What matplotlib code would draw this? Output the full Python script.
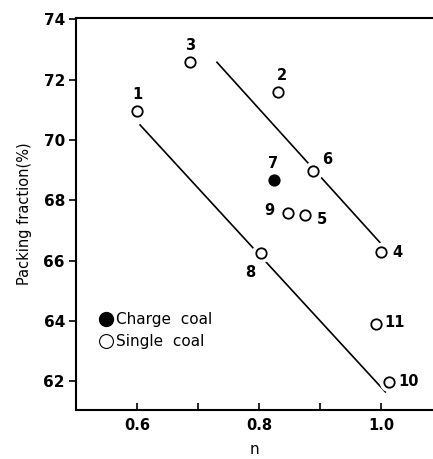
import matplotlib
matplotlib.use("Agg")
import matplotlib.pyplot as plt

# point data
labels = ["1", "2", "3", "4", "5", "6", "7", "8", "9", "10", "11"]
n_vals = [0.600, 0.831, 0.687, 1.000, 0.875, 0.889, 0.825, 0.803, 0.847, 1.013, 0.992]
pf_vals = [70.96, 71.58, 72.58, 66.28, 67.50, 68.97, 68.67, 66.25, 67.57, 61.97, 63.90]
charge = [False, False, False, False, False, False, True, False, False, False, False]

# label offsets (points)
lab_off = {"1": (0, 12), "2": (3, 12), "3": (0, 12), "4": (12, 0), "5": (12, -3),
           "6": (10, 8), "7": (-1, 12), "8": (-8, -14), "9": (-13, 2),
           "10": (14, 0), "11": (13, 1)}

# regression lines
lower_n = [0.605, 1.007]
lower_pf = [70.50, 61.64]
upper_n = [0.731, 0.998]
upper_pf = [72.58, 66.60]

plt.rcParams["font.family"] = ["DejaVu Sans"]

fig = plt.figure(figsize=(4.33, 4.59), dpi=100)
ax = fig.add_axes([0.1755, 0.1068, 0.8245, 0.854])

ax.plot(lower_n, lower_pf, color="black", lw=1.2, zorder=1)
ax.plot(upper_n, upper_pf, color="black", lw=1.2, zorder=1)

for x, y, lab, c in zip(n_vals, pf_vals, labels, charge):
    # white halo so the lines break around the markers
    ax.plot(x, y, "o", ms=13, color="white", zorder=2)
    ax.plot(x, y, "o", ms=7.5, mfc="black" if c else "white", mec="black", mew=1.3, zorder=3)
    ax.annotate(lab, (x, y), xytext=lab_off[lab], textcoords="offset points",
                ha="center", va="center", fontsize=10.5, fontweight="bold")

# legend drawn as text
ax.plot(0.549, 64.05, "o", ms=10, color="black")
ax.plot(0.549, 63.32, "o", ms=10, mfc="white", mec="black", mew=0.8)
ax.text(0.566, 64.05, "Charge  coal", fontsize=11, va="center")
ax.text(0.566, 63.32, "Single  coal", fontsize=11, va="center")

ax.set_xlim(0.5, 1.085)
ax.set_ylim(61.04, 74.05)
ax.set_xticks([0.6, 0.7, 0.8, 0.9, 1.0])
ax.set_xticklabels(["0.6", "", "0.8", "", "1.0"])
ax.set_yticks([62, 64, 66, 68, 70, 72, 74])

ax.tick_params(axis="x", direction="in", length=5, width=1.2, labelsize=10.5, pad=6)
ax.tick_params(axis="y", direction="out", length=5, width=1.2, labelsize=11, pad=3)
for t in ax.get_xticklabels() + ax.get_yticklabels():
    t.set_fontweight("bold")
ax.spines["right"].set_visible(False)
for s in ["left", "top", "bottom"]:
    ax.spines[s].set_linewidth(1.5)

ax.set_xlabel("n", fontsize=11, labelpad=6)
ax.set_ylabel("Packing fraction(%)", fontsize=10.5, labelpad=8)

fig.savefig("out.png", dpi=100)
